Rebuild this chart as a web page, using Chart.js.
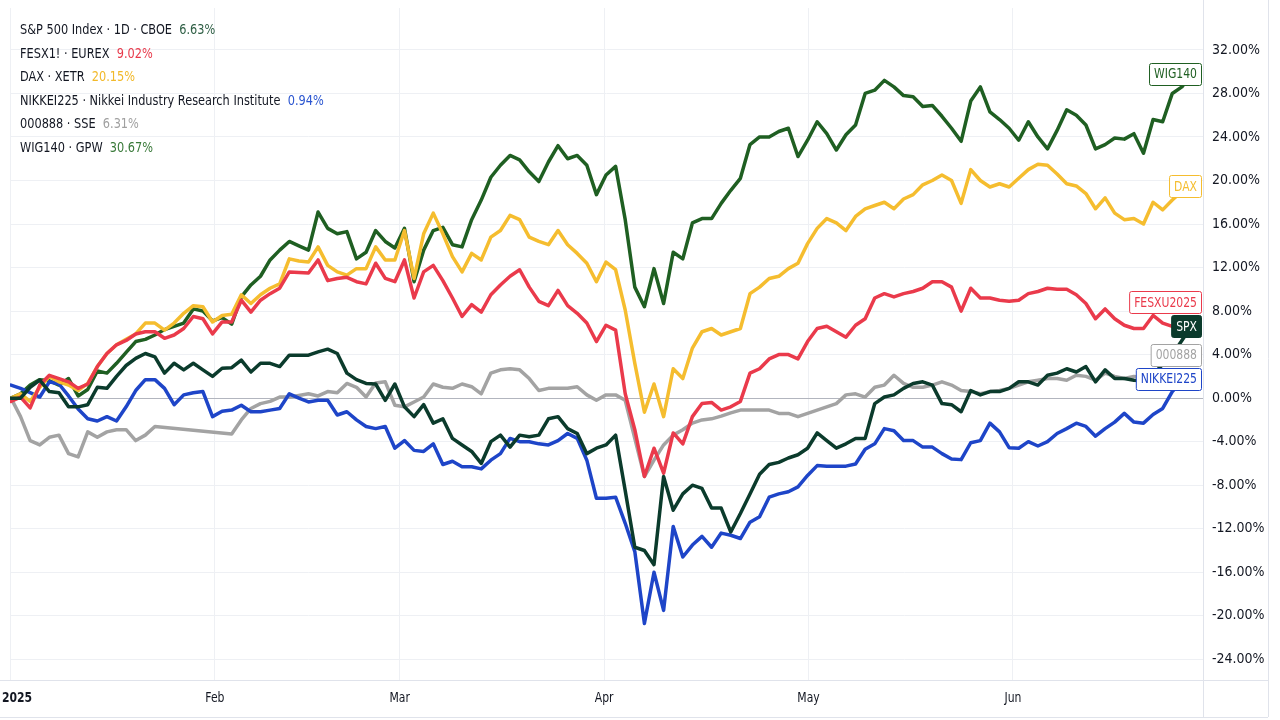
<!DOCTYPE html>
<html>
<head>
<meta charset="utf-8">
<script src="https://cdn.jsdelivr.net/npm/chart.js@4.4.1/dist/chart.umd.min.js"></script>
<style>
  html, body { margin: 0; padding: 0; background: #ffffff; }
  #wrap { position: relative; width: 1280px; height: 720px; overflow: hidden; }
  #legend {
    position: absolute; left: 20px; top: 18px;
    font-family: 'DejaVu Sans Condensed', 'DejaVu Sans', sans-serif;
    font-size: 14px; color: #131722; line-height: 23.6px;
    transform: scaleX(0.9); transform-origin: 0 0;
    white-space: nowrap;
  }
  #legend .v { margin-left: 8px; }
</style>
</head>
<body>
<div id="wrap">
  <canvas id="chart" width="1280" height="720"></canvas>
  <div id="legend"></div>
</div>
<script>
/* performance since the start of 2025, one point per trading day, in % */

const monthTicks = [0, 21.25, 40.5, 61.8, 83.1, 104.4];
const monthLabels = ['2025', 'Feb', 'Mar', 'Apr', 'May', 'Jun'];
const yTicks = [-24, -20, -16, -12, -8, -4, 0, 4, 8, 12, 16, 20, 24, 28, 32];

const spx = [
  0.0, 0.0, 1.0, 1.65, 0.6, 0.5, -0.8, -0.8, -0.6, 1.0,
  0.9, 2.0, 3.0, 3.65, 4.1, 3.8, 2.3, 3.2, 2.6, 3.2,
  2.6, 2.0, 2.75, 2.8, 3.5, 2.4, 3.2, 3.2, 2.9, 3.95,
  3.95, 3.95, 4.25, 4.5, 4.1, 2.3, 1.7, 1.35, 1.3, -0.2,
  1.3, -0.8, -1.7, -0.6, -2.3, -1.9, -3.7, -4.3, -4.9, -6.0,
  -4.0, -3.4, -4.5, -3.4, -3.55, -3.4, -1.9, -1.7, -2.8, -3.25,
  -5.1, -4.6, -4.3, -3.4, -8.5, -13.7, -14.0, -15.3, -7.2, -10.3,
  -8.8, -8.0, -8.3, -10.1, -10.1, -12.3, -10.6, -8.8, -7.0, -6.1,
  -5.9, -5.5, -5.2, -4.6, -3.2, -3.9, -4.6, -4.2, -3.7, -3.7,
  -0.5, 0.1, 0.3, 0.9, 1.35, 1.5, 1.2, -0.5, -0.6, -1.25,
  0.7, 0.3, 0.6, 0.6, 0.9, 1.5, 1.5, 1.2, 2.1, 2.3,
  2.7, 2.4, 2.9, 1.5, 2.6, 1.8, 1.8, 1.65, 1.6, 2.2,
  3.1, 4.0, 5.3, 6.6
];

const fesx = [
  -0.3, 0.1, -0.9, 1.2, 2.1, 1.8, 1.5, 0.9, 1.3, 2.9,
  4.1, 4.9, 5.3, 5.9, 6.1, 6.1, 5.5, 5.8, 6.4, 7.5,
  7.3, 5.9, 7.0, 7.0, 9.0, 7.9, 9.0, 9.6, 10.1, 11.6,
  11.55, 11.5, 12.7, 10.8, 11.0, 11.1, 10.7, 10.5, 12.4, 11.0,
  10.7, 12.7, 9.2, 11.6, 12.2, 10.8, 9.2, 7.5, 8.6, 7.9,
  9.5, 10.4, 11.2, 11.8, 10.2, 8.9, 8.5, 9.9, 8.5, 7.8,
  6.9, 5.2, 6.7, 6.25, 0.4, -2.9, -7.2, -4.6, -6.9, -3.2,
  -4.2, -1.7, -0.5, -0.4, -1.1, -0.8, -0.3, 2.3, 2.7, 3.6,
  4.0, 4.0, 3.6, 5.2, 6.4, 6.6, 6.1, 5.6, 6.7, 7.3,
  9.2, 9.6, 9.3, 9.6, 9.8, 10.1, 10.7, 10.7, 10.2, 8.0,
  10.1, 9.2, 9.2, 9.0, 8.9, 9.0, 9.6, 9.8, 10.1, 10.0,
  10.0, 9.5, 8.7, 7.3, 8.2, 7.3, 6.7, 6.4, 6.4, 7.6,
  6.9, 6.6, 6.5, 6.8
];

const dax = [
  0.0, 0.4, -0.3, 1.0, 2.0, 1.5, 1.2, 0.7, 1.35, 2.9,
  4.1, 4.9, 5.4, 5.9, 6.9, 6.9, 6.25, 6.9, 7.8, 8.5,
  8.4, 7.0, 7.6, 7.7, 9.5, 8.7, 9.5, 10.1, 10.5, 12.8,
  12.6, 12.5, 13.9, 12.2, 11.6, 11.3, 11.9, 11.9, 13.9, 12.7,
  12.7, 15.4, 11.0, 15.1, 17.0, 15.1, 13.0, 11.6, 13.3, 12.7,
  14.8, 15.4, 16.8, 16.4, 14.8, 14.4, 14.1, 15.4, 14.1, 13.3,
  12.4, 10.7, 12.5, 11.8, 8.1, 3.2, -1.3, 1.3, -1.7, 2.7,
  1.8, 4.6, 6.1, 6.4, 5.8, 6.1, 6.4, 9.6, 10.2, 11.0,
  11.2, 11.9, 12.4, 14.2, 15.6, 16.5, 16.1, 15.4, 16.7, 17.4,
  17.7, 18.0, 17.4, 18.3, 18.7, 19.6, 20.0, 20.5, 20.0, 17.9,
  21.0, 20.0, 19.4, 19.7, 19.4, 20.2, 21.0, 21.5, 21.4, 20.6,
  19.7, 19.5, 18.8, 17.4, 18.4, 17.0, 16.4, 16.5, 16.0, 18.0,
  17.3, 18.2, 19.0, 19.5
];

const nikkei = [
  1.2, 0.9, 0.5, 0.1, 1.5, 1.3, 0.2, -1.0, -1.9, -2.1,
  -1.7, -2.1, -0.8, 0.7, 1.7, 1.7, 0.9, -0.6, 0.3, 0.5,
  0.6, -1.7, -1.2, -1.1, -0.65, -1.25, -1.25, -1.1, -0.95, 0.4,
  0.0, -0.35, -0.2, -0.2, -1.55, -1.25, -2.0, -2.6, -2.8, -2.6,
  -4.6, -3.9, -4.8, -4.9, -4.2, -6.1, -5.8, -6.3, -6.3, -6.5,
  -5.7, -5.1, -3.7, -4.0, -4.0, -4.2, -4.3, -3.9, -3.25, -3.7,
  -5.7, -9.2, -9.2, -9.1, -11.5, -14.1, -20.7, -16.0, -19.5, -11.8,
  -14.6, -13.5, -12.7, -13.7, -12.4, -12.6, -12.9, -11.4, -10.9, -9.1,
  -8.8, -8.6, -8.15, -7.1, -6.2, -6.25, -6.25, -6.25, -6.05, -4.7,
  -4.2, -2.8, -3.0, -3.9, -3.9, -4.5, -4.5, -5.1, -5.6, -5.65,
  -4.1, -3.9, -2.3, -3.1, -4.55, -4.6, -4.0, -4.4, -4.0, -3.25,
  -2.8, -2.3, -2.6, -3.5, -2.8, -2.2, -1.4, -2.2, -2.3, -1.5,
  -0.95, 0.6, 1.5, 1.8
];

// null = Shanghai closed (holidays), the line spans the gap
const sse = [
  0.0, -1.7, -3.9, -4.3, -3.6, -3.4, -5.1, -5.4, -3.1, -3.6,
  -3.1, -2.9, -2.9, -3.9, -3.4, -2.6, null, null, null, null,
  null, null, null, -3.3, -2.0, -0.95, -0.5, -0.3, 0.1, 0.1,
  0.25, 0.4, 0.2, 0.6, 0.5, 1.35, 1.0, 0.1, 1.4, 1.5,
  -0.65, -0.8, -0.35, 0.1, 1.3, 1.0, 0.9, 1.3, 1.05, 0.4,
  2.3, 2.6, 2.7, 2.6, 1.8, 0.7, 0.9, 0.9, 0.9, 1.05,
  0.3, -0.2, 0.3, 0.3, -0.2, null, -7.2, -5.7, -4.3, -3.4,
  -2.9, -2.3, -2.0, -1.9, -1.65, -1.35, -1.1, -1.1, -1.1, -1.1,
  -1.4, -1.4, -1.7, -1.4, -1.1, -0.8, -0.5, 0.3, 0.4, 0.1,
  1.0, 1.2, 2.1, 1.35, 1.0, 1.0, 1.2, 1.5, 1.2, 0.7,
  0.6, 0.4, 0.6, 0.7, 0.9, 1.2, 1.5, 1.65, 1.8, 1.8,
  1.65, 2.1, 2.0, 1.65, 2.3, 2.0, 1.8, 2.0, 1.9, 2.0,
  2.1, 2.2, 2.2, 2.3
];

const wig = [
  0.0, 0.4, 1.2, 1.7, 1.6, 1.2, 1.8, 0.2, 0.8, 2.5,
  2.3, 3.2, 4.2, 5.2, 5.4, 5.8, 6.3, 6.6, 6.9, 8.2,
  8.0, 7.1, 7.4, 6.8, 9.3, 10.4, 11.2, 12.7, 13.6, 14.4,
  14.0, 13.6, 17.1, 15.6, 15.1, 15.3, 12.8, 13.4, 15.4, 14.4,
  13.8, 15.6, 10.7, 13.6, 15.4, 15.7, 14.1, 13.9, 16.4, 18.2,
  20.3, 21.4, 22.3, 21.9, 20.8, 19.9, 21.7, 23.2, 22.0, 22.3,
  21.4, 18.7, 20.5, 21.3, 16.4, 10.2, 8.4, 11.9, 8.7, 13.4,
  12.8, 16.1, 16.5, 16.5, 17.9, 19.1, 20.2, 23.3, 24.0, 24.0,
  24.5, 24.8, 22.2, 23.7, 25.4, 24.3, 22.8, 24.2, 25.1, 28.0,
  28.3, 29.2, 28.6, 27.8, 27.7, 26.8, 26.9, 25.9, 24.8, 23.6,
  27.3, 28.6, 26.3, 25.6, 24.8, 23.7, 25.4, 24.0, 22.9, 24.6,
  26.5, 26.0, 25.1, 22.9, 23.3, 23.9, 23.8, 24.3, 22.5, 25.6,
  25.4, 28.0, 28.6, 29.8
];

const days = spx.map((_, i) => i);

// legend rows: name, value shown, value colour
const legendRows = [
  ['S&P 500 Index · 1D · CBOE', '6.63%', '#2f5f45'],
  ['FESX1! · EUREX', '9.02%', '#e8394a'],
  ['DAX · XETR', '20.15%', '#f2b92a'],
  ['NIKKEI225 · Nikkei Industry Research Institute', '0.94%', '#2a55d0'],
  ['000888 · SSE', '6.31%', '#a0a0a0'],
  ['WIG140 · GPW', '30.67%', '#3a7a3a']
];

const FONT = "'DejaVu Sans Condensed', 'DejaVu Sans', sans-serif";
const TEXT = '#131722';
const GRID = '#eef0f4';
const FRAME = '#e0e3eb';
const SQUEEZE = 0.86;

const legendEl = document.getElementById('legend');
legendRows.forEach(r => {
    const row = document.createElement('div');
    row.innerHTML = '<span></span><span class="v"></span>';
    row.children[0].textContent = r[0];
    row.children[1].textContent = r[1];
    row.children[1].style.color = r[2];
    legendEl.appendChild(row);
});

// narrow text, like the screenshot
function squeezedText(ctx, text, x, y, align) {
    ctx.save();
    ctx.translate(x, y);
    ctx.scale(SQUEEZE, 1);
    ctx.textAlign = align;
    ctx.fillText(text, 0, 0);
    ctx.restore();
}

function series(data, color, tag, solid) {
    return {
        data: data,
        borderColor: color,
        borderWidth: 3.5,
        pointRadius: 0,
        tension: 0,
        spanGaps: true,
        borderJoinStyle: 'round',
        borderCapStyle: 'round',
        tag: tag,
        solid: solid
    };
}

// boxes with the symbol at the right end of each line
const endLabels = {
    id: 'endLabels',
    afterDatasetsDraw(chart) {
        const { ctx, scales: { y }, chartArea } = chart;
        const items = chart.data.datasets.map(ds => ({
            ds: ds,
            y: y.getPixelForValue(ds.data[ds.data.length - 1])
        })).sort((a, b) => b.y - a.y);

        let prev = Infinity;
        items.forEach(it => {
            it.y = Math.min(it.y, prev - 24);
            prev = it.y;
        });

        ctx.save();
        ctx.font = '14px ' + FONT;
        ctx.textBaseline = 'middle';
        items.forEach(it => {
            const ds = it.ds;
            const w = ctx.measureText(ds.tag).width * SQUEEZE + 10;
            const h = 22;
            const right = chartArea.right - 1;
            ctx.beginPath();
            ctx.roundRect(right - w + 0.5, Math.round(it.y - h / 2) + 0.5, w - 1, h, 2);
            ctx.fillStyle = ds.solid ? ds.borderColor : '#ffffff';
            ctx.fill();
            ctx.lineWidth = 1;
            ctx.strokeStyle = ds.borderColor;
            ctx.stroke();
            ctx.fillStyle = ds.solid ? '#ffffff' : ds.borderColor;
            squeezedText(ctx, ds.tag, right - 5, it.y + 1, 'right');
        });
        ctx.restore();
    }
};

// month names under the plot and the pane frame
const timeAxis = {
    id: 'timeAxis',
    afterDraw(chart) {
        const { ctx, scales: { x }, chartArea } = chart;
        ctx.save();
        ctx.strokeStyle = FRAME;
        ctx.lineWidth = 1;
        ctx.beginPath();
        ctx.moveTo(0, chartArea.bottom + 0.5);
        ctx.lineTo(1268, chartArea.bottom + 0.5);
        ctx.moveTo(chartArea.right + 0.5, 0);
        ctx.lineTo(chartArea.right + 0.5, 717);
        ctx.moveTo(1268.5, 0);
        ctx.lineTo(1268.5, 717);
        ctx.moveTo(0, 717.5);
        ctx.lineTo(1268, 717.5);
        ctx.stroke();

        ctx.fillStyle = TEXT;
        ctx.textBaseline = 'middle';
        monthTicks.forEach((v, i) => {
            const px = x.getPixelForValue(v);
            if (i === 0) {
                ctx.font = 'bold 14px ' + FONT;
                squeezedText(ctx, monthLabels[i], px - 9, 698, 'left');
            } else {
                ctx.font = '14px ' + FONT;
                squeezedText(ctx, monthLabels[i], px, 698, 'center');
            }
        });
        ctx.restore();
    }
};

// no automatic room for edge tick labels: the plot area is fixed
function noEdgePadding(scale) {
    scale.paddingTop = 0;
    scale.paddingBottom = 0;
    scale.paddingLeft = 0;
    scale.paddingRight = 0;
}

new Chart(document.getElementById('chart'), {
    type: 'line',
    data: {
        labels: days,
        datasets: [
            series(spx, '#0b3b2c', 'SPX', true),
            series(fesx, '#ea3a4b', 'FESXU2025', false),
            series(dax, '#f5bd2f', 'DAX', false),
            series(nikkei, '#1e45c8', 'NIKKEI225', false),
            series(sse, '#a3a3a3', '000888', false),
            series(wig, '#1f5f22', 'WIG140', false)
        ]
    },
    options: {
        responsive: false,
        animation: false,
        events: [],
        layout: { padding: { left: 10, top: 8, right: 0, bottom: 0 } },
        plugins: {
            legend: { display: false },
            tooltip: { enabled: false }
        },
        scales: {
            x: {
                type: 'linear',
                min: -0.1,
                max: 124.2,
                afterBuildTicks: (scale) => { scale.ticks = monthTicks.map(v => ({ value: v })); },
                afterFit: (scale) => { scale.height = 40; noEdgePadding(scale); },
                ticks: { display: false },
                grid: { color: GRID, drawTicks: false },
                border: { display: false }
            },
            y: {
                position: 'right',
                min: -25.9,
                max: 35.85,
                afterBuildTicks: (scale) => { scale.ticks = yTicks.map(v => ({ value: v })); },
                afterFit: (scale) => { scale.width = 77; noEdgePadding(scale); },
                ticks: {
                    padding: 9,
                    color: TEXT,
                    font: { family: FONT, size: 14 },
                    callback: (v) => v.toFixed(2) + '%'
                },
                grid: {
                    color: (c) => c.tick && c.tick.value === 0 ? '#b2b5be' : GRID,
                    drawTicks: false
                },
                border: { display: false }
            }
        }
    },
    plugins: [endLabels, timeAxis]
});
</script>
</body>
</html>
